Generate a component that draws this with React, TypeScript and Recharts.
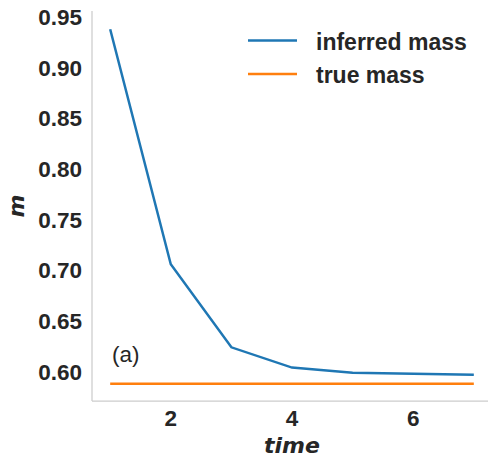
import { LineChart, Line, XAxis, YAxis } from "recharts";

const times = [1, 2, 3, 4, 5, 6, 7];
const inferredMass = [0.938, 0.706, 0.624, 0.604, 0.599, 0.598, 0.597];
const trueMass = [0.588, 0.588, 0.588, 0.588, 0.588, 0.588, 0.588];
const xTicks = [2, 4, 6];
const yTicks = [0.6, 0.65, 0.7, 0.75, 0.8, 0.85, 0.9, 0.95];
const seriesNames = ["inferred mass", "true mass"];
const seriesColors = ["#1f77b4", "#ff7f0e"];

const data = times.map((t, i) => ({
  time: t,
  inferred: inferredMass[i],
  truth: trueMass[i],
}));

const INK = "#262626";
const FRAME = "#cccccc";
const FONT = "'Liberation Sans', Arial, sans-serif";
const LABEL_FONT = "'DejaVu Sans', sans-serif";

const tickStyle = { fontSize: 22.5, fontWeight: 700, fill: INK, fontFamily: FONT };
const labelStyle = { fontSize: 22, fontWeight: 700, fontStyle: "italic", fill: INK, fontFamily: LABEL_FONT };

export default function App() {
  return (
    <div style={{ position: "absolute", left: 0, top: 0, width: 488, height: 459, overflow: "hidden" }}>
      <LineChart
        width={492}
        height={459}
        data={data}
        margin={{ top: 11, right: 0, bottom: 0, left: 0 }}
      >
        <XAxis
          dataKey="time"
          type="number"
          domain={[0.7, 7.3]}
          ticks={xTicks}
          tick={tickStyle}
          tickLine={false}
          tickSize={0}
          tickMargin={9}
          axisLine={{ stroke: FRAME, strokeWidth: 1.25 }}
          height={58}
          label={{ value: "time", position: "insideBottom", offset: 6, style: labelStyle }}
        />
        <XAxis
          xAxisId="top"
          orientation="top"
          dataKey="time"
          type="number"
          domain={[0.7, 7.3]}
          tick={false}
          tickLine={false}
          height={0}
          axisLine={{ stroke: FRAME, strokeWidth: 1.25 }}
        />
        <YAxis
          type="number"
          domain={[0.571, 0.956]}
          ticks={yTicks}
          tickFormatter={(v: number) => v.toFixed(2)}
          tick={tickStyle}
          tickLine={false}
          tickSize={0}
          tickMargin={10}
          axisLine={{ stroke: FRAME, strokeWidth: 1.25 }}
          width={92}
          label={{ value: "m", angle: -90, position: "insideLeft", offset: 16, style: { ...labelStyle, textAnchor: "middle" } }}
        />
        <Line
          type="linear"
          dataKey="inferred"
          name={seriesNames[0]}
          stroke={seriesColors[0]}
          strokeWidth={2.5}
          dot={false}
          isAnimationActive={false}
        />
        <Line
          type="linear"
          dataKey="truth"
          name={seriesNames[1]}
          stroke={seriesColors[1]}
          strokeWidth={2.5}
          dot={false}
          isAnimationActive={false}
        />
      </LineChart>
      {/* legend, no frame, top right like the original */}
      <svg width={488} height={459} style={{ position: "absolute", left: 0, top: 0, pointerEvents: "none" }}>
        {seriesNames.map((name, i) => (
          <g key={name}>
            <line x1={248} x2={297} y1={40.5 + i * 33.5} y2={40.5 + i * 33.5} stroke={seriesColors[i]} strokeWidth={2.5} />
            <text x={316} y={49.5 + i * 33} fontFamily={FONT} fontWeight={700} fontSize={23} fill={INK}>
              {name}
            </text>
          </g>
        ))}
        <text x={112} y={361.5} fontFamily={FONT} fontSize={22.5} fill={INK}>
          (a)
        </text>
      </svg>
    </div>
  );
}
